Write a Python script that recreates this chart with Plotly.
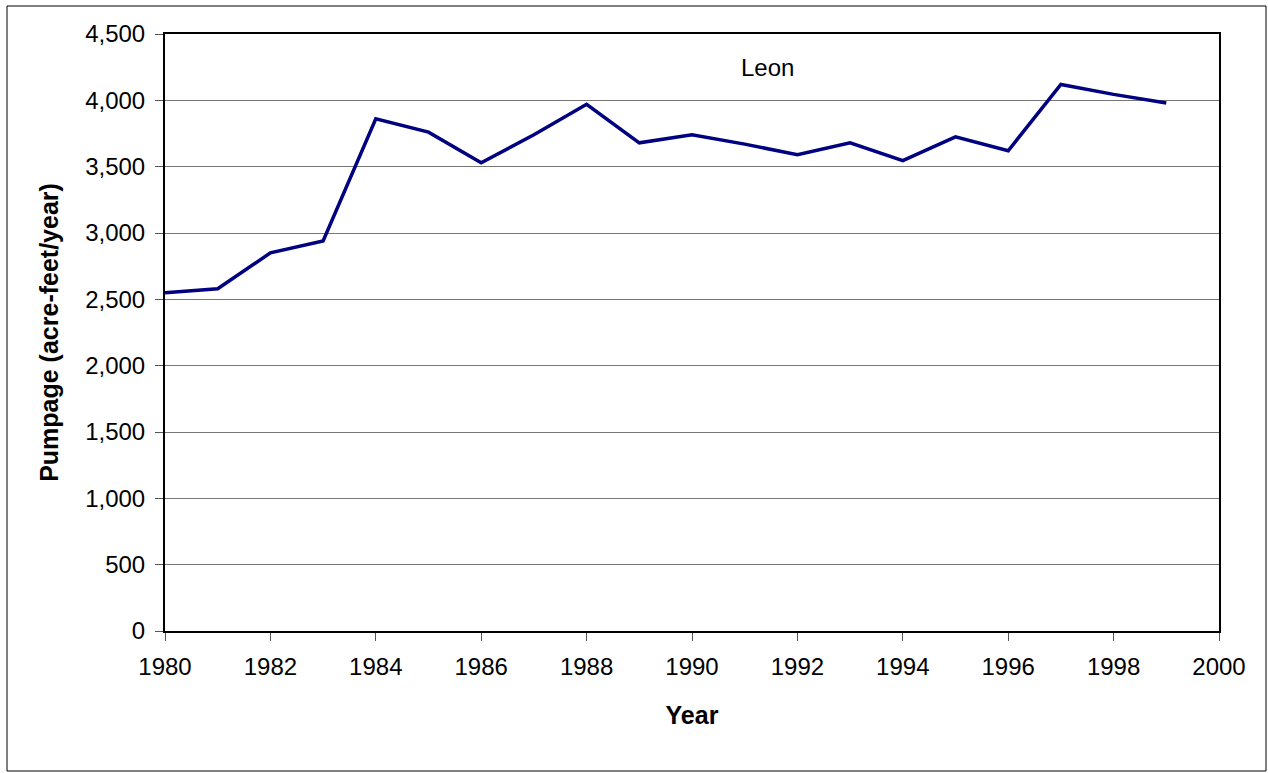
import plotly.graph_objects as go

years = list(range(1980, 2000))
pumpage = [2550, 2580, 2850, 2940, 3860, 3760, 3530, 3740, 3970, 3680,
           3740, 3670, 3590, 3680, 3545, 3725, 3620, 4120, 4045, 3980]
y_ticks = [0, 500, 1000, 1500, 2000, 2500, 3000, 3500, 4000, 4500]
y_tick_labels = ["0", "500", "1,000", "1,500", "2,000", "2,500", "3,000", "3,500", "4,000", "4,500"]
x_ticks = list(range(1980, 2001, 2))

W, H = 1268, 773
L, R, T, B = 165, 49, 34, 142
pw, ph = W - L - R, H - T - B

def px_x(p):
    return (p - L) / pw

def px_y(p):
    return (H - B - p) / ph

fig = go.Figure()
fig.add_trace(go.Scatter(x=years, y=pumpage, mode="lines",
                         line=dict(color="#000080", width=3.5), showlegend=False))

font = dict(family="Liberation Sans, Arial, sans-serif", color="black")

fig.update_layout(
    width=W, height=H,
    margin=dict(l=L, r=R, t=T, b=B),
    paper_bgcolor="white", plot_bgcolor="white",
    font=dict(size=24, **font),
    xaxis=dict(range=[1980, 2000], tickvals=x_ticks, showgrid=False,
               ticks="outside", ticklen=8, tickcolor="#555", tickwidth=1,
               ticklabelstandoff=5,
               showline=True, linecolor="black", linewidth=2, mirror=True,
               zeroline=False, tickfont=dict(size=24),
               title=dict(text="<b>Year</b>", font=dict(size=25), standoff=28)),
    yaxis=dict(range=[0, 4500], tickvals=y_ticks, ticktext=y_tick_labels,
               showgrid=True, gridcolor="#777", gridwidth=1,
               ticks="outside", ticklen=8, tickcolor="#555", tickwidth=1,
               ticklabelstandoff=5,
               showline=True, linecolor="black", linewidth=2, mirror=True,
               zeroline=False, tickfont=dict(size=24),
               title=dict(text="<b>Pumpage (acre-feet/year)</b>", font=dict(size=25), standoff=19)),
    annotations=[dict(text="Leon", x=px_x(767), y=px_y(68), xref="paper", yref="paper",
                      xanchor="center", yanchor="middle",
                      showarrow=False, font=dict(size=24, **font))],
    shapes=[dict(type="rect", xref="paper", yref="paper",
                 x0=px_x(7), x1=px_x(1266), y0=px_y(771), y1=px_y(6),
                 line=dict(color="black", width=1), layer="below")],
)

fig.write_html("out.html", config={"displayModeBar": False},
               post_script="document.body.style.margin='0';document.body.style.overflow='hidden';")
